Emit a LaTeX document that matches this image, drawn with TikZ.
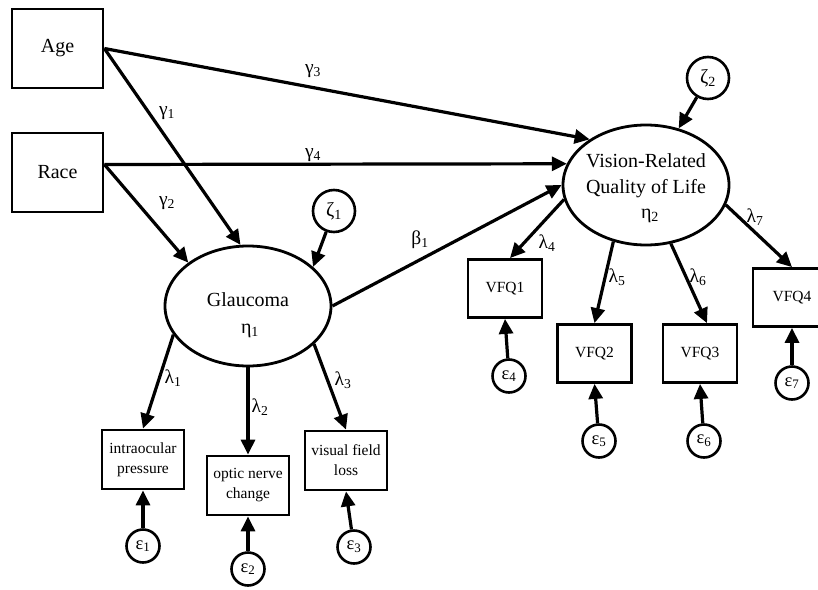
\documentclass[tikz,border=0pt]{standalone}
\usepackage{fontspec}
\setmainfont{Liberation Serif}
\usetikzlibrary{arrows.meta,shapes.geometric,positioning}

\begin{document}
\begin{tikzpicture}[x=1pt, y=-1pt,
    obs/.style={draw, rectangle, line width=2.8pt, inner sep=0pt, minimum width=91pt, minimum height=79pt, font=\fontsize{20}{22}\selectfont},
    ind/.style={draw, rectangle, line width=2.8pt, inner sep=0pt, minimum width=82pt, minimum height=59pt, align=center, font=\fontsize{15.5}{20}\selectfont},
    vfq/.style={ind, minimum width=74pt, minimum height=58pt},
    lat/.style={draw, ellipse, line width=2.8pt, inner sep=0pt, minimum width=166pt, minimum height=120pt},
    lattext/.style={inner sep=0pt, align=center, font=\fontsize{20}{26}\selectfont},
    dist/.style={draw, circle, line width=2.6pt, inner sep=0pt, minimum size=42pt, font=\fontsize{20}{22}\selectfont},
    err/.style={draw, circle, line width=2.6pt, inner sep=0pt, minimum size=33pt, font=\fontsize{18.5}{20}\selectfont},
    coef/.style={inner sep=0pt, font=\fontsize{19.5}{22}\selectfont},
    arr/.style={line width=3.2pt, -{Triangle[length=15pt,width=14pt]}}]
    \useasboundingbox (0,0) rectangle (818,589);

    % Exogenous observed variables
    \node[obs] (age) at (57.5,48.5) {Age};
    \node[obs] (race) at (57.5,172.5) {Race};

    % Latent variables
    \node[lat] (glauc) at (248,306) {};
    \node[lattext] (glauctxt) at (248,300) {Glaucoma};
    \node[lattext] (eta1) at (250,331) {η\textsubscript{1}};
    \node[lat] (vrql) at (646,185) {};
    \node[lattext] (vrqltxt) at (646,176) {Vision-Related\\Quality of Life};
    \node[lattext] (eta2) at (650,216) {η\textsubscript{2}};

    % Disturbances
    \node[dist] (zeta1) at (334,211) {ζ\textsubscript{1}};
    \node[dist] (zeta2) at (708,78) {ζ\textsubscript{2}};

    % Indicators of glaucoma
    \node[ind] (iop) at (143,459.5) {intraocular\\pressure};
    \node[ind] (onc) at (248,485.5) {optic nerve\\change};
    \node[ind] (vfl) at (346,460.5) {visual field\\loss};

    % Indicators of vision-related quality of life
    \node[vfq] (vfq1) at (505,288.5) {VFQ1};
    \node[vfq] (vfq2) at (594.5,353.5) {VFQ2};
    \node[vfq] (vfq3) at (700,353.5) {VFQ3};
    \node[vfq, minimum width=78pt] (vfq4) at (792,297.5) {VFQ4};

    % Measurement errors
    \node[err] (e1) at (143,546) {ε\textsubscript{1}};
    \node[err] (e2) at (248,569) {ε\textsubscript{2}};
    \node[err] (e3) at (354,547) {ε\textsubscript{3}};
    \node[err] (e4) at (509,376) {ε\textsubscript{4}};
    \node[err] (e5) at (599,441) {ε\textsubscript{5}};
    \node[err] (e6) at (704,441) {ε\textsubscript{6}};
    \node[err] (e7) at (792,383) {ε\textsubscript{7}};

    % Structural paths
    \draw[arr] (age.east) -- (glauc.97);
    \draw[arr] (age.east) -- (vrql.141);
    \draw[arr] ([yshift=8pt]race.east) -- (glauc.144);
    \draw[arr] ([yshift=8pt]race.east) -- (vrql.165);
    \draw[arr] (glauc.east) -- (vrql.west);
    \draw[arr] (zeta1) -- (glauc.31);
    \draw[arr] (zeta2) -- (vrql.60);

    % Loadings
    \draw[arr] (glauc.201) -- (iop.north);
    \draw[arr] (glauc.south) -- (onc.north);
    \draw[arr] (glauc.330) -- (vfl.north);
    \draw[arr] (vrql.190) -- ([xshift=5pt]vfq1.north);
    \draw[arr] (vrql.240) -- (vfq2.north);
    \draw[arr] (vrql.293) -- ([xshift=7pt]vfq3.north);
    \draw[arr] (vrql.346) -- (vfq4.north);

    % Errors
    \draw[arr] (e1) -- (iop.south);
    \draw[arr] (e2) -- (onc.south);
    \draw[arr] (e3) -- (vfl.south);
    \draw[arr] (e4) -- (vfq1.south);
    \draw[arr] (e5) -- (vfq2.south);
    \draw[arr] (e6) -- (vfq3.south);
    \draw[arr] (e7) -- (vfq4.south);

    % Coefficients
    \node[coef] (g1) at (167,113) {γ\textsubscript{1}};
    \node[coef] (g2) at (167,203) {γ\textsubscript{2}};
    \node[coef] (g3) at (313,71) {γ\textsubscript{3}};
    \node[coef] (g4) at (313,155) {γ\textsubscript{4}};
    \node[coef] (b1) at (420,240) {β\textsubscript{1}};
    \node[coef] (l1) at (173,378) {λ\textsubscript{1}};
    \node[coef] (l2) at (260,407) {λ\textsubscript{2}};
    \node[coef] (l3) at (343,380) {λ\textsubscript{3}};
    \node[coef] (l4) at (547,243) {λ\textsubscript{4}};
    \node[coef] (l5) at (617,277) {λ\textsubscript{5}};
    \node[coef] (l6) at (698,277) {λ\textsubscript{6}};
    \node[coef] (l7) at (755,217) {λ\textsubscript{7}};
\end{tikzpicture}
\end{document}
